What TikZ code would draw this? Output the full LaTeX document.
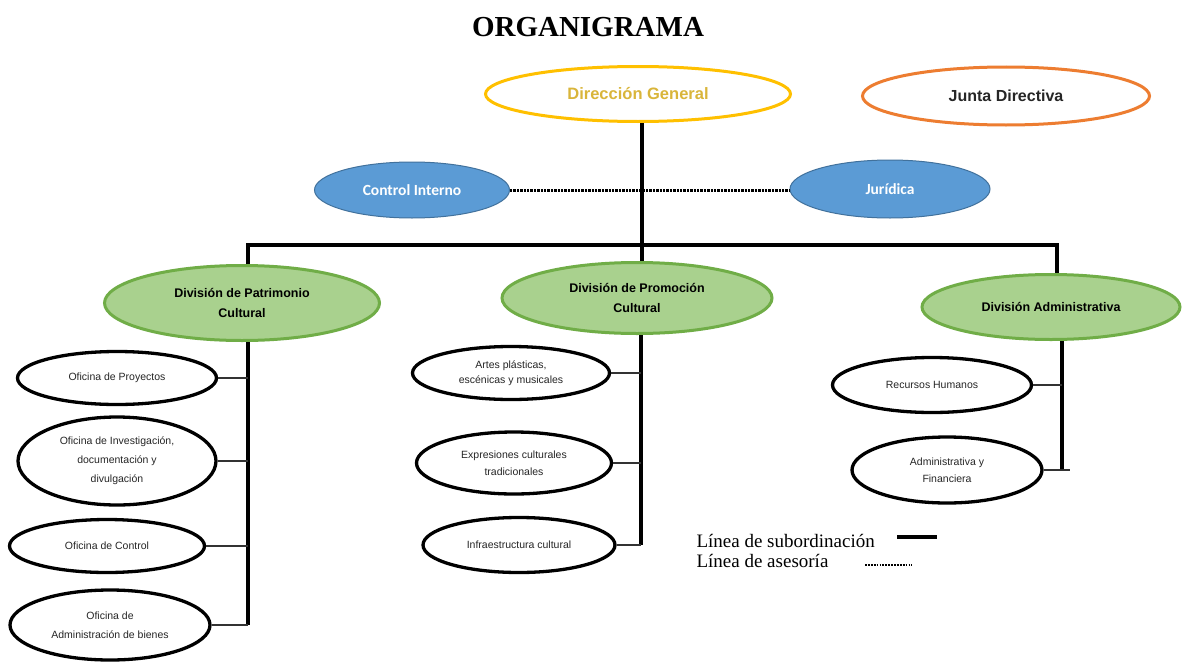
\documentclass[tikz,border=0pt]{standalone}
\usepackage{fontspec}
\setmainfont{Liberation Sans}
\newfontfamily\serifttl{Liberation Serif}
\newfontfamily\calib{Carlito}
\usetikzlibrary{shapes.geometric}
\definecolor{dgyellow}{HTML}{FFC000}
\definecolor{dgtext}{HTML}{D9B53A}
\definecolor{jdorange}{HTML}{ED7D31}
\definecolor{bluefill}{HTML}{5B9BD5}
\definecolor{blueline}{HTML}{41719C}
\definecolor{greenfill}{HTML}{A9D18E}
\definecolor{greenline}{HTML}{70AD47}
\tikzset{
  ell/.style={ellipse, inner sep=0pt, align=center},
  topbox/.style={ell, draw=#1, line width=3pt, fill=white},
  bluebox/.style={ell, draw=blueline, line width=1pt, fill=bluefill, text=white,
    font=\calib\bfseries\fontsize{15.5}{18}\selectfont},
  greenbox/.style={ell, draw=greenline, line width=3pt, fill=greenfill,
    font=\bfseries\fontsize{12.5}{20}\selectfont},
  subbox/.style={ell, draw=black, line width=3.3pt, fill=white, text=black!85,
    font=\fontsize{10.5}{19}\selectfont},
  sub/.style={line width=3.3pt, black},
  branch/.style={line width=1.4pt, black!80},
  ase/.style={line width=3pt, dash pattern=on 2.4pt off 1pt, black},
}
\begin{document}
\begin{tikzpicture}[x=1pt,y=-1pt]
\useasboundingbox (0,0) rectangle (1185,669);
\fill[white] (0,0) rectangle (1185,669);
% title
\node[font=\serifttl\bfseries\fontsize{29}{34}\selectfont] (title) at (588,27) {ORGANIGRAMA};
% top level
\node[topbox=dgyellow, minimum width=305pt, minimum height=55pt, text=dgtext,
  font=\bfseries\fontsize{16.5}{20}\selectfont] (dg) at (638,94) {Dirección General};
\node[topbox=jdorange, minimum width=287pt, minimum height=58pt, text=black!85,
  font=\bfseries\fontsize{16}{20}\selectfont] (jd) at (1006,96) {Junta Directiva};
% advisory
\node[bluebox, minimum width=195pt, minimum height=56pt] (ci) at (412,190) {Control Interno};
\node[bluebox, minimum width=200pt, minimum height=58pt] (ju) at (890,189) {Jurídica};
% divisions
\node[greenbox, minimum width=275pt, minimum height=75pt] (dp) at (242,303) {División de Patrimonio\\Cultural};
\node[greenbox, minimum width=270pt, minimum height=71pt] (dpr) at (637,298) {División de Promoción\\Cultural};
\node[greenbox, minimum width=258pt, minimum height=65pt] (da) at (1051,307) {División Administrativa};
% offices
\node[subbox, minimum width=199pt, minimum height=53pt] (op) at (117,378) {Oficina de Proyectos};
\node[subbox, minimum width=198pt, minimum height=88pt] (oi) at (117,461) {Oficina de Investigación,\\documentación y\\divulgación};
\node[subbox, minimum width=195pt, minimum height=53pt] (oc) at (107,546) {Oficina de Control};
\node[subbox, minimum width=200pt, minimum height=70pt] (oa) at (110,625) {Oficina de\\Administración de bienes};
\node[subbox, minimum width=197pt, minimum height=53pt, font=\fontsize{10.5}{15}\selectfont] (ap) at (511,373) {Artes plásticas,\\escénicas y musicales};
\node[subbox, minimum width=195pt, minimum height=62pt, font=\fontsize{10.5}{17}\selectfont] (ec) at (514,463) {Expresiones culturales\\tradicionales};
\node[subbox, minimum width=192pt, minimum height=55pt] (ic) at (519,545) {Infraestructura cultural};
\node[subbox, minimum width=199pt, minimum height=55pt] (rh) at (932,385) {Recursos Humanos};
\node[subbox, minimum width=190pt, minimum height=66pt, font=\fontsize{10.5}{17}\selectfont] (af) at (947,470) {Administrativa y\\Financiera};
% spine coordinates
\coordinate (sp) at (642,0);
\coordinate (bl) at (248,245);
\coordinate (br) at (1057,245);
\coordinate (lx) at (248,0);
\coordinate (mx) at (641,0);
\coordinate (rx) at (1062,0);
% subordination lines
\draw[sub] (dg.south -| sp) -- (dpr.north -| sp);
\draw[sub] (dp.north -| bl) -- (bl) -- (br) -- (da.north -| br);
% advisory line
\draw[ase] (ci.east) -- (ju.west |- ci.east);
% left column
\draw[sub] (dp.south -| lx) -- (oa.east -| lx);
\foreach \n in {op,oi,oc,oa} \draw[branch] (\n.east) -- (\n.east -| lx);
% middle column
\draw[sub] (dpr.south -| mx) -- (ic.east -| mx);
\foreach \n in {ap,ec,ic} \draw[branch] (\n.east) -- (\n.east -| mx);
% right column
\draw[sub] (da.south -| rx) -- (af.east -| rx);
\draw[branch] (rh.east) -- (rh.east -| rx);
\coordinate (afend) at (1070,0);
\draw[branch] (af.east) -- (af.east -| afend);
% legend
\node[anchor=west, font=\serifttl\fontsize{19}{22}\selectfont] (l1) at (693,541) {Línea de subordinación};
\node[anchor=west, font=\serifttl\fontsize{19}{22}\selectfont] (l2) at (693,561) {Línea de asesoría};
\coordinate (l1a) at (897,537);
\coordinate (l1b) at (937,537);
\coordinate (l2a) at (865,565);
\coordinate (l2b) at (912,565);
\draw[sub] (l1a) -- (l1b);
\draw[line width=2.2pt, dash pattern=on 1.8pt off 1.1pt] (l2a) -- (l2b);
\end{tikzpicture}
\end{document}
